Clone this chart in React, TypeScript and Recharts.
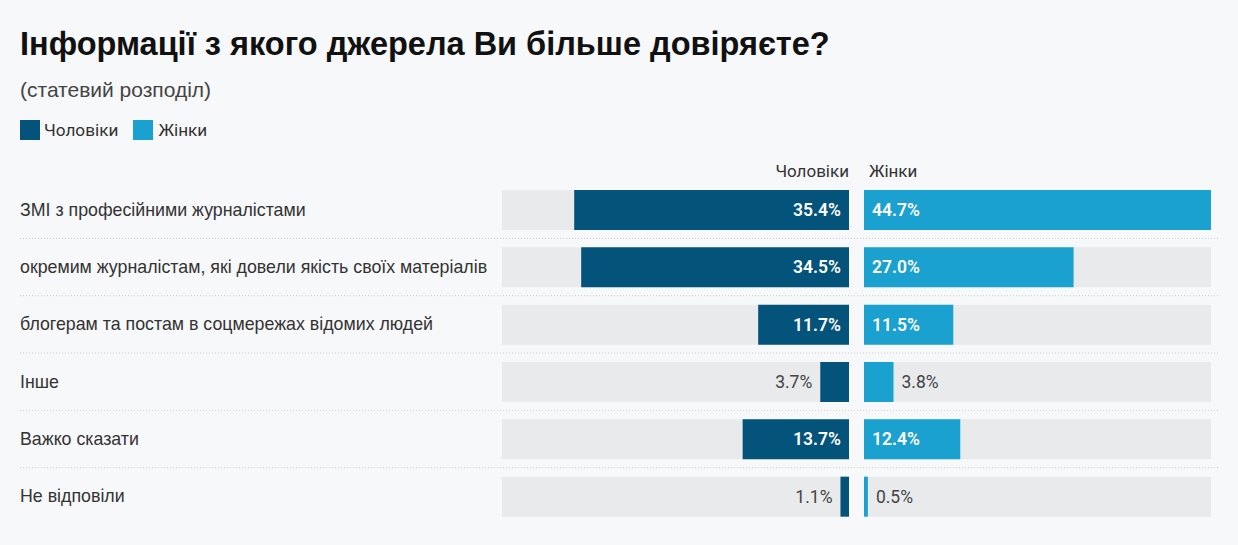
import React from "react";
import { BarChart, Bar, XAxis, YAxis, LabelList } from "recharts";

const CATEGORIES = [
  "ЗМІ з професійними журналістами",
  "окремим журналістам, які довели якість своїх матеріалів",
  "блогерам та постам в соцмережах відомих людей",
  "Інше",
  "Важко сказати",
  "Не відповіли",
];
const MEN = [35.4, 34.5, 11.7, 3.7, 13.7, 1.1];
const WOMEN = [44.7, 27.0, 11.5, 3.8, 12.4, 0.5];

const data = CATEGORIES.map((name, i) => ({ name, men: MEN[i], women: WOMEN[i] }));
const MAX = Math.max(...MEN, ...WOMEN);

const MEN_COLOR = "#03537a";
const WOMEN_COLOR = "#1ba1cf";
const TRACK = "#e9eaec";
const BG = "#f7f8fa";
const TEXT = "#333";

const W = 1238;
const H = 545;
const MARGIN_TOP = 181;
const MARGIN_BOTTOM = 20;
const ROW = (H - MARGIN_TOP - MARGIN_BOTTOM) / CATEGORIES.length;

const LABEL_FONT = "Roboto, 'Liberation Sans', sans-serif";
const TEXT_FONT = "'Liberation Sans', Arial, sans-serif";

function CategoryTick(props: any) {
  const { y, payload, index } = props;
  return (
    <g>
      <text x={20} y={y} dominantBaseline="central" fontSize={17.8} fill={TEXT} fontFamily={TEXT_FONT}>
        {payload.value}
      </text>
      {index < CATEGORIES.length - 1 && (
        <line x1={20} x2={1218} y1={y + ROW / 2} y2={y + ROW / 2} stroke="#c9cbce" strokeDasharray="1 2" />
      )}
    </g>
  );
}

function makeLabel(side: "men" | "women") {
  return (props: any) => {
    const { x, y, width, height, value } = props;
    const left = Math.min(x, x + width);
    const right = Math.max(x, x + width);
    const inside = value >= 5;
    const cy = y + height / 2;
    const txt = `${Number(value).toFixed(1)}%`;
    let tx: number;
    let anchor: "start" | "end";
    if (side === "men") {
      anchor = "end";
      tx = inside ? right - 8 : left - 8;
    } else {
      anchor = "start";
      tx = inside ? left + 8 : right + 8;
    }
    return (
      <text
        x={tx}
        y={cy}
        dominantBaseline="central"
        textAnchor={anchor}
        fontSize={17.5}
        fontFamily={LABEL_FONT}
        fontWeight={inside ? 600 : 400}
        fill={inside ? "#fff" : "#444"}
      >
        {txt}
      </text>
    );
  };
}

export default function App() {
  return (
    <div
      style={{
        position: "absolute",
        left: 0,
        top: 0,
        width: W,
        height: H,
        background: BG,
        overflow: "hidden",
        color: TEXT,
      }}
    >
      <div
        style={{
          position: "absolute",
          left: 20,
          top: 24,
          fontFamily: TEXT_FONT,
          fontWeight: 700,
          fontSize: 32.5,
          lineHeight: "40px",
          color: "#111",
          whiteSpace: "nowrap",
        }}
      >
        Інформації з якого джерела Ви більше довіряєте?
      </div>
      <div
        style={{
          position: "absolute",
          left: 20,
          top: 77,
          fontFamily: TEXT_FONT,
          fontSize: 21,
          lineHeight: "26px",
          color: "#444",
          whiteSpace: "nowrap",
        }}
      >
        (статевий розподіл)
      </div>
      <div
        style={{
          position: "absolute",
          left: 20,
          top: 120,
          display: "flex",
          alignItems: "center",
          fontFamily: LABEL_FONT,
          fontSize: 17.2,
          lineHeight: "20px",
          color: "#333",
        }}
      >
        <span style={{ width: 20, height: 20, background: MEN_COLOR, display: "inline-block", marginRight: 4 }} />
        <span style={{ marginRight: 15 }}>Чоловіки</span>
        <span style={{ width: 20, height: 20, background: WOMEN_COLOR, display: "inline-block", marginRight: 5 }} />
        <span>Жінки</span>
      </div>
      <div
        style={{
          position: "absolute",
          right: W - 849,
          top: 161,
          fontFamily: LABEL_FONT,
          fontSize: 17,
          lineHeight: "20px",
          color: "#333",
        }}
      >
        Чоловіки
      </div>
      <div
        style={{
          position: "absolute",
          left: 869,
          top: 161,
          fontFamily: LABEL_FONT,
          fontSize: 17,
          lineHeight: "20px",
          color: "#333",
        }}
      >
        Жінки
      </div>

      <div style={{ position: "absolute", left: 0, top: 0 }}>
        <BarChart
          width={W}
          height={H}
          data={data}
          layout="vertical"
          margin={{ top: MARGIN_TOP, right: W - 849, bottom: MARGIN_BOTTOM, left: 0 }}
        >
          <XAxis type="number" domain={[0, MAX]} reversed hide />
          <YAxis
            type="category"
            dataKey="name"
            width={502}
            axisLine={false}
            tickLine={false}
            tick={<CategoryTick />}
            interval={0}
          />
          <Bar dataKey="men" fill={MEN_COLOR} barSize={40} background={{ fill: TRACK }} isAnimationActive={false}>
            <LabelList dataKey="men" content={makeLabel("men")} />
          </Bar>
        </BarChart>
      </div>

      <div style={{ position: "absolute", left: 0, top: 0 }}>
        <BarChart
          width={W}
          height={H}
          data={data}
          layout="vertical"
          margin={{ top: MARGIN_TOP, right: W - 1211, bottom: MARGIN_BOTTOM, left: 864 }}
        >
          <XAxis type="number" domain={[0, MAX]} hide />
          <YAxis type="category" dataKey="name" hide width={0} />
          <Bar dataKey="women" fill={WOMEN_COLOR} barSize={40} background={{ fill: TRACK }} isAnimationActive={false}>
            <LabelList dataKey="women" content={makeLabel("women")} />
          </Bar>
        </BarChart>
      </div>
    </div>
  );
}
